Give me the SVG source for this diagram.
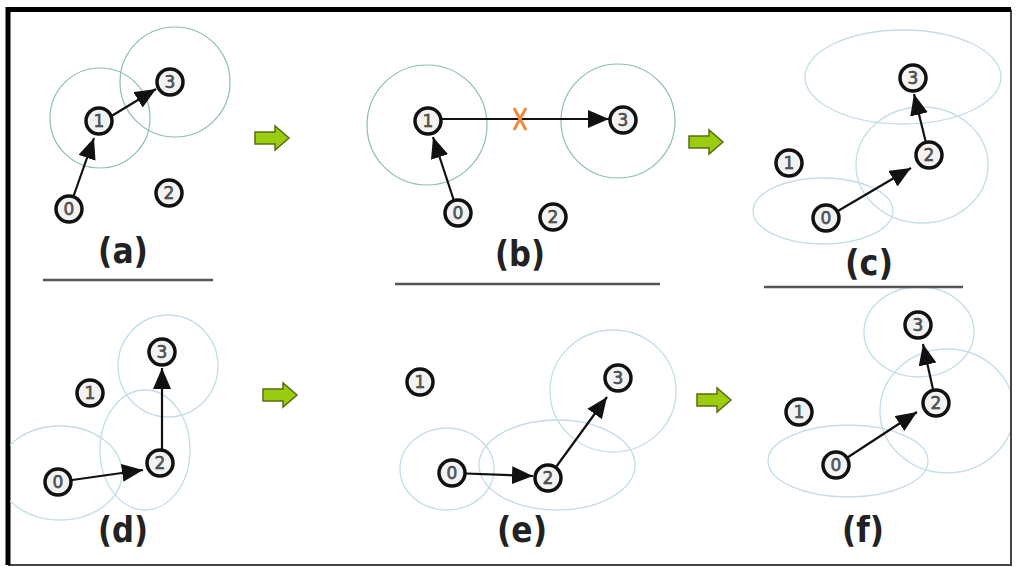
<svg xmlns="http://www.w3.org/2000/svg" width="1016" height="567" viewBox="0 0 1016 567">
<style>
.range-g{fill:none;stroke:#8cc0a6;stroke-width:1.2}
.range-b{fill:none;stroke:#c3dde7;stroke-width:1.3}
.node circle{fill:#f3f3f3;stroke:#111;stroke-width:3.5}
.node text{font-family:"DejaVu Sans",sans-serif;font-size:17px;fill:#666;stroke:#222;stroke-width:0.5;text-anchor:middle}
.edge{stroke:#111;stroke-width:2.2;fill:none;marker-end:url(#ah)}
.step{fill:#9acd12;stroke:#5a6e10;stroke-width:1.5}
.lbl{font-family:"DejaVu Sans",sans-serif;font-weight:bold;font-size:36px;fill:#222;text-anchor:middle}
.sep{stroke:#555;stroke-width:2.5}
</style>
<defs>
<marker id="ah" markerUnits="userSpaceOnUse" markerWidth="23" markerHeight="20" refX="21" refY="9" orient="auto">
<path d="M0,0 L21,9 L0,18 z" fill="#111"/>
</marker>
<path id="blk" d="M-17,-6 L3,-6 L3,-12 L17,0 L3,12 L3,6 L-17,6 z"/>
<clipPath id="inner"><rect x="10" y="12" width="1000" height="552"/></clipPath>
</defs>
<rect width="1016" height="567" fill="#fff"/>
<!-- frame -->
<path d="M1011,9.5 L1011,565 L8,565" fill="none" stroke="#444" stroke-width="2"/>
<path d="M8,565 L8,9.5 L1011,9.5" fill="none" stroke="#000" stroke-width="5"/>

<!-- ranges -->
<g id="ranges" clip-path="url(#inner)">
<circle class="range-g" cx="100" cy="118" r="50"/>
<circle class="range-g" cx="175" cy="82" r="55"/>
<circle class="range-g" cx="427" cy="125" r="60"/>
<circle class="range-g" cx="618" cy="121" r="57"/>
<ellipse class="range-b" cx="903" cy="77" rx="98" ry="47"/>
<ellipse class="range-b" cx="922" cy="165" rx="66" ry="58"/>
<ellipse class="range-b" cx="823" cy="211" rx="70" ry="33"/>
<ellipse class="range-b" cx="168" cy="366" rx="50" ry="51"/>
<ellipse class="range-b" cx="145" cy="450" rx="45" ry="60"/>
<ellipse class="range-b" cx="60" cy="473" rx="62" ry="47"/>
<ellipse class="range-b" cx="447" cy="469" rx="47" ry="41"/>
<ellipse class="range-b" cx="557" cy="465" rx="78" ry="45"/>
<ellipse class="range-b" cx="613" cy="391" rx="63" ry="61"/>
<ellipse class="range-b" cx="919" cy="332" rx="55" ry="45"/>
<ellipse class="range-b" cx="947" cy="411" rx="67" ry="62"/>
<ellipse class="range-b" cx="848" cy="461" rx="80" ry="36"/>
</g>

<!-- connectors -->
<g id="connectors">
<line class="edge" x1="69" y1="209" x2="94" y2="138"/>
<line class="edge" x1="100" y1="123" x2="156" y2="89"/>
<line class="edge" x1="458" y1="213" x2="433" y2="137"/>
<line class="edge" x1="428" y1="119" x2="609" y2="119"/>
<line class="edge" x1="826" y1="218" x2="911" y2="168"/>
<line class="edge" x1="929" y1="155" x2="914" y2="94"/>
<line class="edge" x1="58" y1="482" x2="143" y2="470"/>
<line class="edge" x1="162" y1="463" x2="162" y2="368"/>
<line class="edge" x1="452" y1="473" x2="533" y2="476"/>
<line class="edge" x1="548" y1="478" x2="607" y2="397"/>
<line class="edge" x1="836" y1="465" x2="917" y2="412"/>
<line class="edge" x1="936" y1="403" x2="923" y2="344"/>
<g id="cut" stroke="#f08a3a" stroke-width="3">
<line x1="514" y1="108" x2="526" y2="130"/>
<line x1="526" y1="108" x2="514" y2="130"/>
</g>
</g>

<!-- panel a -->
<g id="a-n0" class="node"><circle cx="69" cy="209" r="13"/><text x="69" y="215">0</text></g>
<g id="a-n1" class="node"><circle cx="99" cy="121" r="13"/><text x="99" y="127">1</text></g>
<g id="a-n2" class="node"><circle cx="169" cy="193" r="13"/><text x="169" y="199">2</text></g>
<g id="a-n3" class="node"><circle cx="170" cy="82" r="13"/><text x="170" y="88">3</text></g>
<!-- panel b -->
<g id="b-n0" class="node"><circle cx="458" cy="213" r="13"/><text x="458" y="219">0</text></g>
<g id="b-n1" class="node"><circle cx="428" cy="121" r="13"/><text x="428" y="127">1</text></g>
<g id="b-n2" class="node"><circle cx="553" cy="217" r="13"/><text x="553" y="223">2</text></g>
<g id="b-n3" class="node"><circle cx="623" cy="120" r="13"/><text x="623" y="126">3</text></g>
<!-- panel c -->
<g id="c-n0" class="node"><circle cx="826" cy="218" r="13"/><text x="826" y="224">0</text></g>
<g id="c-n1" class="node"><circle cx="789" cy="163" r="13"/><text x="789" y="169">1</text></g>
<g id="c-n2" class="node"><circle cx="929" cy="155" r="13"/><text x="929" y="161">2</text></g>
<g id="c-n3" class="node"><circle cx="913" cy="78" r="13"/><text x="913" y="84">3</text></g>
<!-- panel d -->
<g id="d-n0" class="node"><circle cx="58" cy="482" r="13"/><text x="58" y="488">0</text></g>
<g id="d-n1" class="node"><circle cx="90" cy="393" r="13"/><text x="90" y="399">1</text></g>
<g id="d-n2" class="node"><circle cx="160" cy="463" r="13"/><text x="160" y="469">2</text></g>
<g id="d-n3" class="node"><circle cx="162" cy="352" r="13"/><text x="162" y="358">3</text></g>
<!-- panel e -->
<g id="e-n0" class="node"><circle cx="452" cy="473" r="13"/><text x="452" y="479">0</text></g>
<g id="e-n1" class="node"><circle cx="420" cy="382" r="13"/><text x="420" y="388">1</text></g>
<g id="e-n2" class="node"><circle cx="548" cy="478" r="13"/><text x="548" y="484">2</text></g>
<g id="e-n3" class="node"><circle cx="618" cy="378" r="13"/><text x="618" y="384">3</text></g>
<!-- panel f -->
<g id="f-n0" class="node"><circle cx="836" cy="465" r="13"/><text x="836" y="471">0</text></g>
<g id="f-n1" class="node"><circle cx="799" cy="412" r="13"/><text x="799" y="418">1</text></g>
<g id="f-n2" class="node"><circle cx="936" cy="403" r="13"/><text x="936" y="409">2</text></g>
<g id="f-n3" class="node"><circle cx="918" cy="325" r="13"/><text x="918" y="331">3</text></g>

<!-- step arrows -->
<g id="steps">
<use href="#blk" class="step" transform="translate(272,138)"/>
<use href="#blk" class="step" transform="translate(706,142)"/>
<use href="#blk" class="step" transform="translate(280,395)"/>
<use href="#blk" class="step" transform="translate(714,400)"/>
</g>

<!-- labels -->
<g id="labels">
<text class="lbl" x="123" y="263" textLength="50" lengthAdjust="spacingAndGlyphs">(a)</text>
<text class="lbl" x="520" y="266" textLength="50" lengthAdjust="spacingAndGlyphs">(b)</text>
<text class="lbl" x="869" y="275" textLength="48" lengthAdjust="spacingAndGlyphs">(c)</text>
<text class="lbl" x="123" y="542" textLength="50" lengthAdjust="spacingAndGlyphs">(d)</text>
<text class="lbl" x="522" y="542" textLength="50" lengthAdjust="spacingAndGlyphs">(e)</text>
<text class="lbl" x="863" y="542" textLength="42" lengthAdjust="spacingAndGlyphs">(f)</text>
</g>
<g id="separators">
<line class="sep" x1="43" y1="280" x2="213" y2="280"/>
<line class="sep" x1="395" y1="284" x2="660" y2="284"/>
<line class="sep" x1="764" y1="287" x2="963" y2="287"/>
</g>
</svg>
